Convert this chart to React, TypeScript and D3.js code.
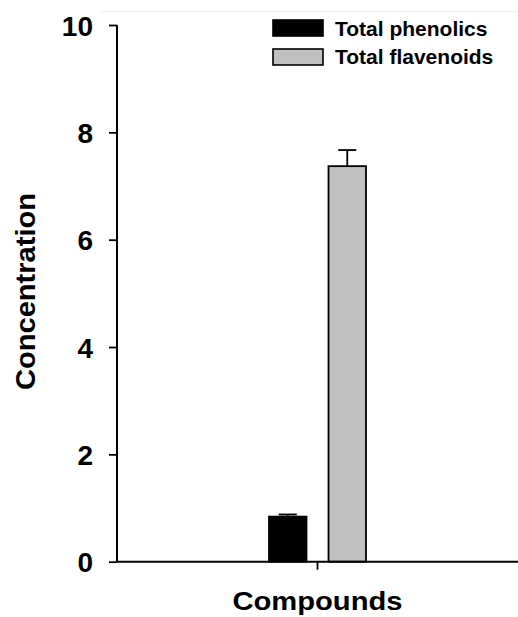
import React, { useRef, useEffect } from 'react';
import * as d3 from 'd3';

// values
const categories = ['Compounds'];
const seriesNames = ['Total phenolics', 'Total flavenoids'];
const seriesValues = [0.84, 7.37];
const seriesErrors = [0.04, 0.3];
const seriesColors = ['#000000', '#c0c0c0'];
const yTicks = [0, 2, 4, 6, 8, 10];

const W = 518;
const H = 617;

const App = () => {
  const svgRef = useRef<SVGSVGElement>(null);

  useEffect(() => {
    const svg = d3.select(svgRef.current);
    svg.selectAll('*').remove();
    const font = 'Arial, "Liberation Sans", sans-serif';

    // scales
    const yScale = d3.scaleLinear().domain([0, 10]).range([561.7, 25]);
    const xScale = d3.scaleBand<string>().domain(categories).range([117, 518]).padding(0);
    const cx = (xScale(categories[0]) as number) + xScale.bandwidth() / 2;
    const inner = d3.scaleBand<string>()
      .domain(seriesNames)
      .range([cx - 48.5, cx + 48.5])
      .paddingInner(0.37)
      .paddingOuter(0);

    // faint line at the top of the page
    svg.append('line')
      .attr('x1', 100).attr('x2', W)
      .attr('y1', 11.5).attr('y2', 11.5)
      .attr('stroke', '#f0f0f0').attr('stroke-width', 1);

    // bars
    const rows = seriesNames.map((name, i) => ({
      name, value: seriesValues[i], err: seriesErrors[i], color: seriesColors[i],
    }));

    // error bars (upper only)
    const eb = svg.append('g');
    rows.forEach(d => {
      const mx = (inner(d.name) as number) + inner.bandwidth() / 2;
      eb.append('line')
        .attr('x1', mx).attr('x2', mx)
        .attr('y1', yScale(d.value)).attr('y2', yScale(d.value + d.err))
        .attr('stroke', '#000').attr('stroke-width', 1.8);
      eb.append('line')
        .attr('x1', mx - 9).attr('x2', mx + 9)
        .attr('y1', yScale(d.value + d.err)).attr('y2', yScale(d.value + d.err))
        .attr('stroke', '#000').attr('stroke-width', 1.8);
    });

    svg.append('g')
      .selectAll('rect')
      .data(rows)
      .join('rect')
      .attr('x', d => inner(d.name) as number)
      .attr('y', d => yScale(d.value))
      .attr('width', inner.bandwidth())
      .attr('height', d => yScale(0) - yScale(d.value))
      .attr('fill', d => d.color)
      .attr('stroke', '#000')
      .attr('stroke-width', 1.8);

    // y axis
    const yAxis = d3.axisLeft(yScale).tickValues(yTicks).tickSize(8).tickPadding(14)
      .tickFormat(d3.format('d'));
    const gy = svg.append('g').attr('transform', 'translate(117,0)').call(yAxis);
    gy.select('.domain').attr('d', `M0,${yScale(10)}V${yScale(0)}`).attr('stroke-width', 2);
    gy.selectAll('.tick line').attr('stroke-width', 1.8);
    gy.selectAll('.tick text')
      .attr('font-family', font)
      .attr('font-weight', 'bold')
      .attr('font-size', 28)
      .attr('fill', '#000')
      .attr('x', -24)
      .attr('dy', '0.36em');

    // x axis
    const xAxis = d3.axisBottom(xScale).tickSize(8).tickFormat(() => '');
    const gx = svg.append('g').attr('transform', `translate(0,${yScale(0)})`).call(xAxis);
    gx.select('.domain').attr('d', `M117,0H${W}`).attr('stroke-width', 2);
    gx.selectAll('.tick line').attr('stroke-width', 1.8);

    // axis titles
    svg.append('text')
      .attr('x', cx).attr('y', 609.5)
      .attr('text-anchor', 'middle')
      .attr('font-family', font).attr('font-weight', 'bold').attr('font-size', 25)
      .attr('textLength', 170).attr('lengthAdjust', 'spacingAndGlyphs')
      .text('Compounds');

    svg.append('text')
      .attr('transform', 'translate(35,291.5) rotate(-90)')
      .attr('text-anchor', 'middle')
      .attr('font-family', font).attr('font-weight', 'bold').attr('font-size', 27)
      .attr('textLength', 197).attr('lengthAdjust', 'spacingAndGlyphs')
      .text('Concentration');

    // legend
    const legendTop = [20, 49];
    const legendBase = [35.5, 63.5];
    const lg = svg.append('g');
    rows.forEach((d, i) => {
      lg.append('rect')
        .attr('x', 273).attr('y', legendTop[i])
        .attr('width', 50).attr('height', 16)
        .attr('fill', d.color).attr('stroke', '#000').attr('stroke-width', 1.6);
      lg.append('text')
        .attr('x', 335).attr('y', legendBase[i])
        .attr('font-family', font).attr('font-weight', 'bold').attr('font-size', 21)
        .text(d.name);
    });
  }, []);

  return (
    <svg
      ref={svgRef}
      width={W}
      height={H}
      style={{ position: 'absolute', left: 0, top: 0, background: '#fff' }}
    />
  );
};

export default App;
